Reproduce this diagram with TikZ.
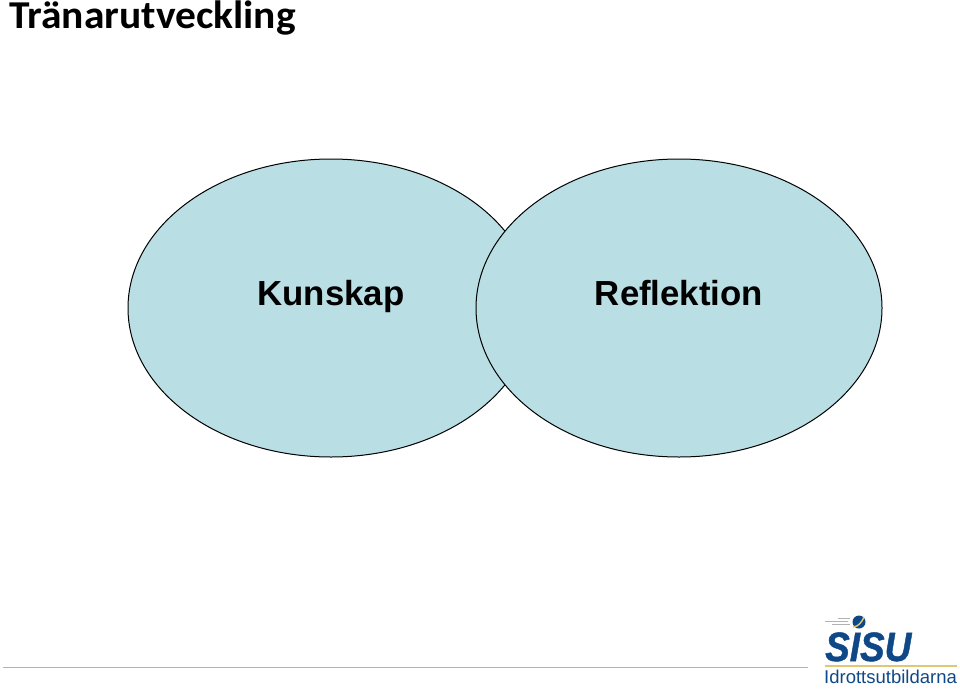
\documentclass[tikz,border=0pt]{standalone}
\usepackage{fontspec}
\setmainfont{Liberation Sans}
\newfontfamily\titlefont{Carlito}
\newfontfamily\logofont[FakeBold=1.2]{Liberation Sans}
\usetikzlibrary{shapes.geometric}
\definecolor{bubblefill}{RGB}{185,223,228}
\definecolor{sisublue}{RGB}{15,72,135}
\definecolor{sisugold}{RGB}{222,200,120}
\definecolor{rulegrey}{RGB}{150,185,215}
\begin{document}
\begin{tikzpicture} [x=1pt, y=-1pt,
  bubble/.style={ellipse, draw=black, fill=bubblefill, line width=1pt, minimum width=406pt, minimum height=298pt, inner sep=0pt},
  bubbletext/.style={inner sep=0pt, anchor=base, font=\fontsize{34.8}{34.8}\selectfont\bfseries},
  plain/.style={inner sep=0pt, anchor=base west}
]
\useasboundingbox (0,0) rectangle (960,688);
\node[plain, xscale=1.05, font=\titlefont\fontsize{39.5}{39.5}\selectfont\bfseries] (title) at (9,28) {Tränarutveckling};
\node[bubble] (kunskap) at (331,308) {};
\node[bubble] (reflektion) at (679,308) {};
\node[bubbletext] (kunskaptext) at (331,305) {Kunskap};
\node[bubbletext] (reflektiontext) at (679,305) {Reflektion};
% footer
\draw[rulegrey, line width=1pt] (3,667) -- (808,667);
\draw[sisugold, line width=1.2pt] (825,666) -- (957,666);
\node[plain, xscale=.9, font=\logofont\fontsize{41}{41}\selectfont\bfseries\itshape, text=sisublue] (sisu) at (825,661) {SISU};
\node[plain, font=\fontsize{18.5}{18.5}\selectfont, text=sisublue] (idrott) at (824,683) {Idrottsutbildarna};
% ball
\fill[sisublue] (859,622) circle (6.5);
\draw[sisugold, line width=1.4pt] (853,627) .. controls (858,627) and (862,622) .. (864,617);
\draw[black!30, line width=.6pt] (825,621) -- (848,621) (832,624) -- (850,624) (838,618) -- (850,618);
\end{tikzpicture}
\end{document}
